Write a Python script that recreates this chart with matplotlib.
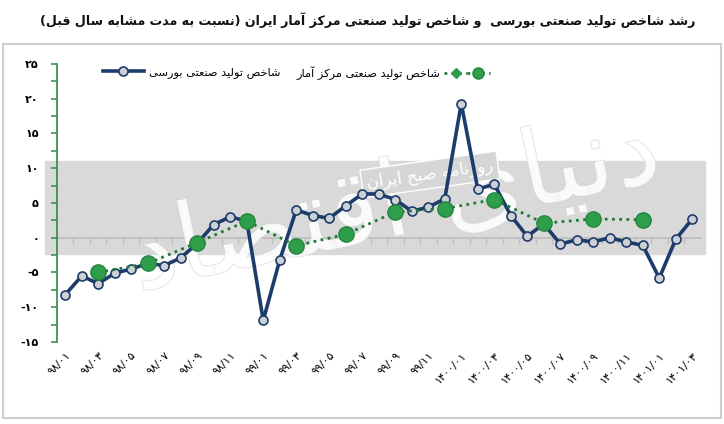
import matplotlib
matplotlib.use("Agg")
import matplotlib.pyplot as plt
import matplotlib.patheffects as pe
from matplotlib.lines import Line2D
from matplotlib.legend_handler import HandlerTuple
from matplotlib.patches import Rectangle
import numpy as np

# --- data ---------------------------------------------------------------
bourse_values = [-8.2, -5.5, -6.6, -5.1, -4.5, -3.7, -4.0, -2.9, -0.8, 1.9,
                 3.0, 2.4, -11.9, -3.2, 4.0, 3.2, 2.8, 4.6, 6.3, 6.3,
                 5.5, 3.8, 4.4, 5.6, 19.3, 7.0, 7.7, 3.2, 0.2, 2.0,
                 -0.9, -0.3, -0.6, 0.0, -0.6, -1.1, -5.8, -0.2, 2.7]
amar_months = [2, 5, 8, 11, 14, 17, 20, 23, 26, 29, 32, 35]
amar_values = [-5.0, -3.7, -0.7, 2.4, -1.15, 0.5, 3.7, 4.2, 5.5, 2.1, 2.7, 2.6]
month_labels = ["۹۸/۰۱", "۹۸/۰۳", "۹۸/۰۵", "۹۸/۰۷", "۹۸/۰۹", "۹۸/۱۱",
                "۹۹/۰۱", "۹۹/۰۳", "۹۹/۰۵", "۹۹/۰۷", "۹۹/۰۹", "۹۹/۱۱",
                "۱۴۰۰/۰۱", "۱۴۰۰/۰۳", "۱۴۰۰/۰۵", "۱۴۰۰/۰۷", "۱۴۰۰/۰۹",
                "۱۴۰۰/۱۱", "۱۴۰۱/۰۱", "۱۴۰۱/۰۳"]
y_ticks = [25, 20, 15, 10, 5, 0, -5, -10, -15]
y_labels = ["۲۵", "۲۰", "۱۵", "۱۰", "۵", "۰", "-۵", "-۱۰", "-۱۵"]

title = "رشد شاخص تولید صنعتی بورسی  و شاخص تولید صنعتی مرکز آمار ایران (نسبت به مدت مشابه سال قبل)"
label_bourse = "شاخص تولید صنعتی بورسی"
label_amar = "شاخص تولید صنعتی مرکز آمار"
stamp = "روزنامه صبح ایران"
watermark = "دنیای اقتصاد"

# --- minimal arabic shaping (matplotlib has no bidi / joining) -----------
FORMS = {
    "ا": ("\uFE8D", "\uFE8E"), "آ": ("\uFE81", "\uFE82"),
    "د": ("\uFEA9", "\uFEAA"), "ر": ("\uFEAD", "\uFEAE"),
    "ز": ("\uFEAF", "\uFEB0"), "و": ("\uFEED", "\uFEEE"),
    "ب": ("\uFE8F", "\uFE90", "\uFE91", "\uFE92"),
    "ت": ("\uFE95", "\uFE96", "\uFE97", "\uFE98"),
    "ح": ("\uFEA1", "\uFEA2", "\uFEA3", "\uFEA4"),
    "خ": ("\uFEA5", "\uFEA6", "\uFEA7", "\uFEA8"),
    "س": ("\uFEB1", "\uFEB2", "\uFEB3", "\uFEB4"),
    "ش": ("\uFEB5", "\uFEB6", "\uFEB7", "\uFEB8"),
    "ص": ("\uFEB9", "\uFEBA", "\uFEBB", "\uFEBC"),
    "ع": ("\uFEC9", "\uFECA", "\uFECB", "\uFECC"),
    "ق": ("\uFED5", "\uFED6", "\uFED7", "\uFED8"),
    "ل": ("\uFEDD", "\uFEDE", "\uFEDF", "\uFEE0"),
    "م": ("\uFEE1", "\uFEE2", "\uFEE3", "\uFEE4"),
    "ن": ("\uFEE5", "\uFEE6", "\uFEE7", "\uFEE8"),
    "ه": ("\uFEE9", "\uFEEA", "\uFEEB", "\uFEEC"),
    "ک": ("\uFB8E", "\uFB8F", "\uFB90", "\uFB91"),
    "ی": ("\uFBFC", "\uFBFD", "\uFBFE", "\uFBFF"),
}
MIRROR = {"(": ")", ")": "("}


def fa(text):
    out = []
    for i, ch in enumerate(text):
        forms = FORMS.get(ch)
        if forms is None:
            out.append(MIRROR.get(ch, ch))
            continue
        prev = FORMS.get(text[i - 1]) if i > 0 else None
        nxt = FORMS.get(text[i + 1]) if i + 1 < len(text) else None
        join_prev = prev is not None and len(prev) == 4
        join_next = len(forms) == 4 and nxt is not None
        if join_prev and join_next:
            out.append(forms[3])
        elif join_prev:
            out.append(forms[1])
        elif join_next:
            out.append(forms[2])
        else:
            out.append(forms[0])
    return "".join(reversed(out))


plt.rcParams["font.family"] = ["DejaVu Sans"]

navy = "#1d3c6b"
green = "#2f9e4a"
dark_green = "#1f7a37"
axis_green = "#2e8b45"

x = np.arange(len(bourse_values))

fig = plt.figure(figsize=(7.24, 4.24), dpi=100)
ax = fig.add_axes([0.0787, 0.1934, 0.8889, 0.6557])

# outer frame and title
fig.patches.append(Rectangle((0.004, 0.014), 0.992, 0.882, transform=fig.transFigure,
                             fill=False, edgecolor="#cfcfcf", lw=1.5))
fig.text(0.508, 0.953, fa(title), ha="center", va="center", fontsize=9.1,
         fontweight="bold", color="#111111")

# watermark band
ax.axhspan(-2.4, 11, xmin=-0.018, xmax=1.007, color="#d9d9d9", zorder=0, clip_on=False)
ax.text(20, 4.5, fa(watermark), fontsize=76, color="white", alpha=0.65,
        ha="center", va="center", rotation=12, zorder=1,
        path_effects=[pe.withStroke(linewidth=1, foreground="#d2d2d2")])
ax.text(22.1, 9.1, fa(stamp), fontsize=12, color="white", ha="center", va="center",
        rotation=8, zorder=2,
        bbox=dict(boxstyle="square,pad=0.3", fc="#d6d6d6", ec="white", lw=1))

# series
ax.plot(x, bourse_values, color=navy, lw=2.6, marker="o", ms=6.5,
        mfc="#cdd0d4", mec=navy, mew=1.2, zorder=3)
ax.plot(amar_months, amar_values, color=dark_green, lw=2, ls=(0, (1, 1.6)),
        marker="o", ms=11, mfc=green, mec="#22853b", mew=1, zorder=4)

ax.set_xlim(-0.5, len(bourse_values) - 0.5)
ax.set_ylim(-15, 25)

# y axis
for side in ["top", "right", "bottom"]:
    ax.spines[side].set_visible(False)
ax.spines["left"].set_color(axis_green)
ax.spines["left"].set_linewidth(1.2)
ax.set_yticks(y_ticks)
ax.set_yticklabels(y_labels, fontsize=8, fontweight="bold")
ax.set_yticks(np.arange(-15, 25.1, 2.5), minor=True)
ax.tick_params(axis="y", which="both", length=4, color=axis_green, width=1.1, pad=9)

# category labels at the bottom
ax.set_xticks(x[::2])
ax.set_xticklabels(month_labels, rotation=45, ha="right", rotation_mode="anchor",
                   fontsize=8)
ax.tick_params(axis="x", length=0, pad=6)

# zero axis with ticks between categories
zero = ax.secondary_xaxis(15 / 40)
zero.spines["bottom"].set_color("#bdbdbd")
zero.spines["bottom"].set_linewidth(1.2)
zero.set_xticks(np.arange(0.5, len(bourse_values) - 0.5, 1))
zero.set_xticklabels([])
zero.tick_params(length=4, color="#bdbdbd", width=1)

# legends
h_bourse = Line2D([], [], color=navy, lw=2.6, marker="o", ms=6.5, mfc="#cdd0d4",
                  mec=navy, mew=1.2)
leg1 = ax.legend([h_bourse], [fa(label_bourse)], loc="center left",
                 bbox_to_anchor=(0.055, 0.968), frameon=False, fontsize=8.2,
                 handlelength=3.6, handletextpad=0.5)
ax.add_artist(leg1)
h_dia = Line2D([], [], color=dark_green, lw=2, ls=(0, (1, 1.6)), marker="D", ms=5,
               mfc=green, mec=green)
h_dot = Line2D([], [], color=dark_green, lw=2, ls=(0, (1, 1.6)), marker="o", ms=8,
               mfc=green, mec="#22853b")
ax.legend([(h_dia, h_dot)], [fa(label_amar)], loc="center left",
          bbox_to_anchor=(0.357, 0.968), frameon=False, fontsize=8.2,
          handlelength=4, handletextpad=0.3, markerfirst=False,
          handler_map={tuple: HandlerTuple(ndivide=2, pad=0)})

fig.savefig("out.png", dpi=100)
